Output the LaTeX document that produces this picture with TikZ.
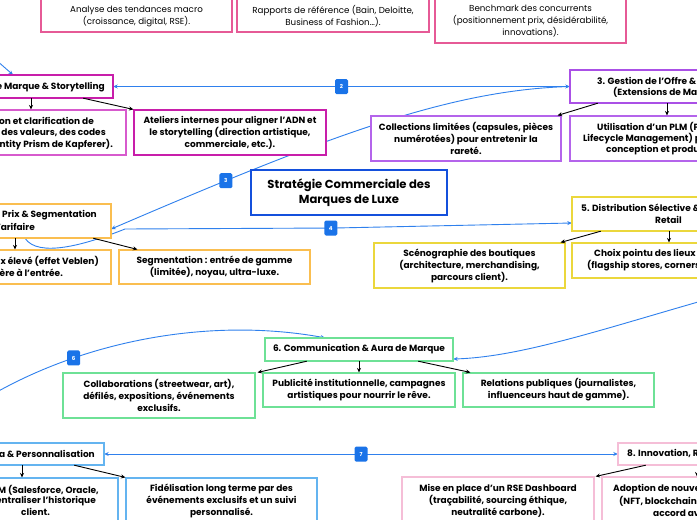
\documentclass[tikz,border=0pt]{standalone}
\usepackage{fontspec}
\setmainfont{Poppins}
\usetikzlibrary{arrows.meta}
\definecolor{relblue}{RGB}{47,128,237}
\definecolor{badgeblue}{RGB}{26,115,232}
\definecolor{cTop}{RGB}{230,90,150}
\definecolor{cMag}{RGB}{200,30,170}
\definecolor{cOrchid}{RGB}{215,90,205}
\definecolor{cPurp}{RGB}{170,80,230}
\definecolor{cPurpL}{RGB}{180,100,235}
\definecolor{cCenter}{RGB}{20,80,220}
\definecolor{cOrange}{RGB}{250,190,80}
\definecolor{cYellow}{RGB}{235,215,60}
\definecolor{cGreen}{RGB}{110,225,150}
\definecolor{cSky}{RGB}{100,180,240}
\definecolor{cPink}{RGB}{245,190,215}
\newcommand{\mybf}{\fontsize{9}{12}\selectfont\bfseries}
\newcommand{\myrg}{\fontsize{8.7}{12}\selectfont}
\newcommand{\mytitle}{\fontsize{11.6}{15}\selectfont\bfseries}
\tikzset{
  box/.style={draw, fill=white, line width=1.1pt, inner sep=0pt, align=center, font=\mybf},
  frag/.style={inner sep=0pt, font=\mybf},
  txt/.style={inner sep=0pt, align=center, font=\mybf},
  rel/.style={draw=relblue, line width=0.9pt, -{Stealth[length=4.5pt,width=4pt]}},
  relboth/.style={draw=relblue, line width=0.9pt, {Stealth[length=4.5pt,width=4pt]}-{Stealth[length=4.5pt,width=4pt]}},
  sub/.style={draw=black, line width=0.9pt, -{Stealth[length=4.5pt,width=4pt]}},
  badge/.style={fill=badgeblue, rounded corners=1.5pt, text=white, font=\fontsize{5.5}{6}\selectfont\bfseries, minimum width=13pt, minimum height=15pt, inner sep=0pt}
}
\begin{document}
\begin{tikzpicture}[x=1pt,y=-1pt]
\useasboundingbox (0,0) rectangle (697,520);
\fill[white] (0,0) rectangle (697,520);

\coordinate (l1s) at (-20,46);
\coordinate (l5s) at (705,300);
\coordinate (l6s) at (-40,415);

\path
  node[minimum width=153pt, minimum height=23pt, inner sep=0pt] (n2) at (36.5,86.5) {}
  node[minimum width=190pt, minimum height=33pt, inner sep=0pt] (n3) at (665,86.5) {}
  node[minimum width=151pt, minimum height=34pt, inner sep=0pt] (n4) at (35.5,221) {}
  node[minimum width=188pt, minimum height=34pt, inner sep=0pt] (n5) at (666,214) {}
  node[minimum width=188pt, minimum height=23pt, inner sep=0pt] (n6) at (359,349.5) {}
  node[minimum width=144pt, minimum height=22pt, inner sep=0pt] (n7) at (32,454) {}
  node[minimum width=142pt, minimum height=22pt, inner sep=0pt] (n8) at (689,454) {};

% ---- relation lines (behind boxes)
\draw[rel] (l1s) -- ([xshift=-23.5pt]n2.north);
\draw[relboth] (n2.east) -- node[badge]{2} (n3.west);
\draw[rel] (n3.west) .. controls (450,90) and (330,135) .. node[badge, pos=0.81]{3} ([yshift=-8pt]n4.east);
\draw[rel] ([xshift=-10.5pt]n4.south) .. controls (38,258) and (85,245) .. (125,229) -- node[badge, pos=0.98]{4} (335,228) -- ([yshift=-9pt]n5.west);
\draw[rel] (l5s) .. controls (600,330) and (520,357) .. node[badge, pos=0]{5} ([yshift=-9.5pt]n6.east);
\draw[rel] (l6s) .. controls (60,345) and (200,315) .. node[badge, pos=0.34]{6} ([xshift=-34pt]n6.north);
\draw[relboth] (n7.east) -- node[badge]{7} (n8.west);

% ---- top boxes
\node[box, draw=cTop, minimum width=191pt, minimum height=52pt] (ta) at (136.5,6) {};
\node[txt, font=\myrg] (tat) at (136.5,16) {Analyse des tendances macro\\(croissance, digital, RSE).};
\node[box, draw=cTop, minimum width=192pt, minimum height=52pt] (tb) at (333,6) {};
\node[txt, font=\myrg] (tbt) at (333,16) {Rapports de référence (Bain, Deloitte,\\Business of Fashion…).};
\node[box, draw=cTop, minimum width=191pt, minimum height=53pt] (tc) at (530.5,16.5) {};
\node[txt, font=\myrg] (tct) at (530.5,21.5) {Benchmark des concurrents\\(positionnement prix, désidérabilité,\\innovations).};

% ---- branch 2
\node[box, draw=cMag, minimum width=153pt, minimum height=23pt] (n2b) at (n2) {};
\node[frag, anchor=east] (n2t) at (105,87) {e Marque \& Storytelling};
\node[box, draw=cOrchid, minimum width=166pt, minimum height=45pt] (c2a) at (43,132.5) {};
\node[frag, anchor=east] (c2a1) at (94,121) {on et clarification de};
\node[frag, anchor=east] (c2a2) at (106,133) {des valeurs, des codes};
\node[frag, anchor=east] (c2a3) at (113,145) {ntity Prism de Kapferer).};
\node[box, draw=cMag, minimum width=192pt, minimum height=45pt] (c2b) at (230,132.5) {Ateliers internes pour aligner l'ADN et\\le storytelling (direction artistique,\\commerciale, etc.).};

% ---- branch 3
\node[box, draw=cPurp, minimum width=190pt, minimum height=33pt] (n3b) at (n3) {};
\node[frag, anchor=west] (n3t1) at (597,81) {3. Gestion de l'Offre \&};
\node[frag, anchor=west] (n3t2) at (613,93) {(Extensions de Marque)};
\node[box, draw=cPurpL, minimum width=190pt, minimum height=45pt] (c3a) at (466,138.5) {Collections limitées (capsules, pièces\\numérotées) pour entretenir la\\rareté.};
\node[box, draw=cPurpL, minimum width=190pt, minimum height=45pt] (c3b) at (665,138.5) {};
\node[frag, anchor=west] (c3b1) at (597,127) {Utilisation d'un PLM (Product};
\node[frag, anchor=west] (c3b2) at (583,139) {Lifecycle Management) pour la};
\node[frag, anchor=west] (c3b3) at (606,150) {conception et production.};

% ---- central
\node[box, draw=cCenter, line width=1.3pt, minimum width=196pt, minimum height=45pt, font=\mytitle] (ctr) at (349,192.5) {Stratégie Commerciale des\\Marques de Luxe};

% ---- branch 4
\node[box, draw=cOrange, minimum width=151pt, minimum height=34pt] (n4b) at (n4) {};
\node[frag, anchor=east] (n4t1) at (97,215) {Prix \& Segmentation};
\node[frag, anchor=east] (n4t2) at (35,227) {Tarifaire};
\node[box, draw=cOrange, minimum width=151pt, minimum height=34pt] (c4a) at (35.5,267) {};
\node[frag, anchor=east] (c4a1) at (99,261) {ix élevé (effet Veblen)};
\node[frag, anchor=east] (c4a2) at (63,273) {ère à l'entrée.};
\node[box, draw=cOrange, minimum width=191pt, minimum height=34pt] (c4b) at (214.5,267) {Segmentation : entrée de gamme\\(limitée), noyau, ultra-luxe.};

% ---- branch 5
\node[box, draw=cYellow, minimum width=188pt, minimum height=34pt] (n5b) at (n5) {};
\node[frag, anchor=west] (n5t1) at (581,208) {5. Distribution Sélective \&};
\node[frag, anchor=west] (n5t2) at (655,220) {Retail};
\node[box, draw=cYellow, minimum width=191pt, minimum height=45pt] (c5a) at (469.5,265.5) {Scénographie des boutiques\\(architecture, merchandising,\\parcours client).};
\node[box, draw=cYellow, minimum width=188pt, minimum height=35pt] (c5b) at (666,260.5) {};
\node[frag, anchor=west] (c5b1) at (594,254) {Choix pointu des lieux};
\node[frag, anchor=west] (c5b2) at (587,266) {(flagship stores, corners)};

% ---- branch 6
\node[box, draw=cGreen, minimum width=188pt, minimum height=23pt] (n6b) at (n6) {6. Communication \& Aura de Marque};
\node[box, draw=cGreen, minimum width=192pt, minimum height=45pt] (c6a) at (159,395.5) {Collaborations (streetwear, art),\\défilés, expositions, événements\\exclusifs.};
\node[box, draw=cGreen, minimum width=192pt, minimum height=34pt] (c6b) at (359,390) {Publicité institutionnelle, campagnes\\artistiques pour nourrir le rêve.};
\node[box, draw=cGreen, minimum width=191pt, minimum height=34pt] (c6c) at (558.5,390) {Relations publiques (journalistes,\\influenceurs haut de gamme).};

% ---- branch 7
\node[box, draw=cSky, minimum width=144pt, minimum height=22pt] (n7b) at (n7) {};
\node[frag, anchor=east] (n7t) at (95,454) {a \& Personnalisation};
\node[box, draw=cSky, minimum width=158pt, minimum height=62pt] (c7a) at (39,509) {};
\node[frag, anchor=east] (c7a1) at (99,490) {M (Salesforce, Oracle,};
\node[frag, anchor=east] (c7a2) at (96,501) {entraliser l'historique};
\node[frag, anchor=east] (c7a3) at (50,512) {client.};
\node[box, draw=cSky, minimum width=191pt, minimum height=62pt] (c7b) at (221.5,509) {};
\node[txt] (c7bt) at (221.5,501) {Fidélisation long terme par des\\événements exclusifs et un suivi\\personnalisé.};

% ---- branch 8
\node[box, draw=cPink, minimum width=142pt, minimum height=22pt] (n8b) at (n8) {};
\node[frag, anchor=west] (n8t) at (627,454) {8. Innovation, RSE \& Digital};
\node[box, draw=cPink, minimum width=192pt, minimum height=63pt] (c8a) at (498,508.5) {};
\node[txt] (c8at) at (498,501) {Mise en place d'un RSE Dashboard\\(traçabilité, sourcing éthique,\\neutralité carbone).};
\node[box, draw=cPink, minimum width=198pt, minimum height=63pt] (c8b) at (701,508.5) {};
\node[frag, anchor=west] (c8b1) at (613,489) {Adoption de nouvelles};
\node[frag, anchor=west] (c8b2) at (619,501) {(NFT, blockchain,};
\node[frag, anchor=west] (c8b3) at (653,513) {accord avec};

% ---- child connectors
\draw[sub] ([xshift=-5.5pt]n2.south) -- ([xshift=-5.5pt]n2.south |- c2a.north);
\draw[sub] ([xshift=-30pt]n2.south east) -- (c2b.north west);
\draw[sub] ([xshift=28pt]n3.south west) -- ([xshift=-4pt]c3a.north east);
\draw[sub] ([xshift=2pt]n3.south) -- ([xshift=2pt]n3.south |- c3b.north);
\draw[sub] ([xshift=-20.5pt]n4.south) -- ([xshift=-20.5pt]n4.south |- c4a.north);
\draw[sub] ([xshift=-18pt]n4.south east) -- ([xshift=19pt]c4b.north west);
\draw[sub] ([xshift=29pt]n5.south west) -- ([xshift=-5pt]c5a.north east);
\draw[sub] ([xshift=3pt]n5.south) -- ([xshift=3pt]n5.south |- c5b.north);
\draw[sub] ([xshift=42pt]n6.south west) -- ([xshift=2pt]c6a.north east);
\draw[sub] (n6.south) -- (n6.south |- c6b.north);
\draw[sub] ([xshift=-35pt]n6.south east) -- ([xshift=8pt]c6c.north west);
\draw[sub] ([xshift=-10pt]n7.south) -- ([xshift=-10pt]n7.south |- c7a.north);
\draw[sub] ([xshift=-30pt]n7.south east) -- (c7b.north west);
\draw[sub] ([xshift=28pt]n8.south west) -- ([xshift=1pt]c8a.north east);
\draw[sub] ([xshift=8pt]n8.south) -- ([xshift=8pt]n8.south |- c8b.north);
\end{tikzpicture}
\end{document}
